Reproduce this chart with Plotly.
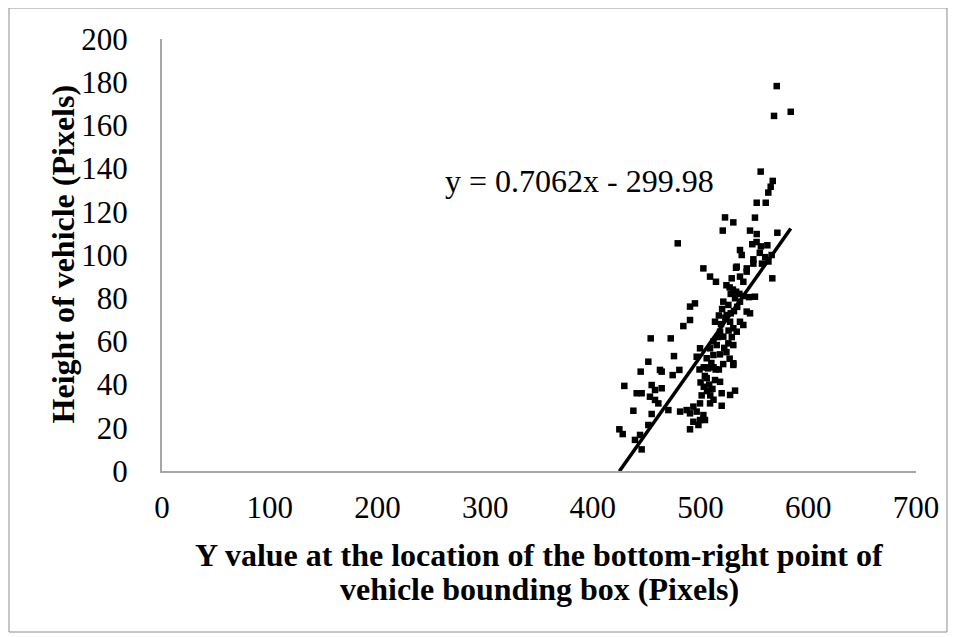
import plotly.graph_objects as go

# Data
x_vals = [570.7, 568.2, 583.7, 555.8, 567.0, 565.1, 562.9, 552.1, 560.5,
          522.7, 530.4, 550.5, 520.6, 545.9, 552.1, 571.3, 478.8,
          536.6, 538.2, 548.0, 552.0, 556.0, 562.0, 549.0, 555.0, 560.0, 557.0, 563.0, 566.0,
          533.6, 542.9, 502.6, 549.0, 508.8, 514.3, 532.9, 542.8, 566.6, 528.9, 536.6, 539.7,
          524.0, 527.0, 530.0, 533.0, 536.0, 540.0, 545.0, 528.0, 532.0, 550.5,
          490.2, 494.8, 521.1, 525.8, 536.6, 542.8, 545.9, 490.2, 484.0, 513.4,
          524.3, 527.4, 530.4, 533.6, 536.6, 539.7, 518.1, 521.1, 515.0, 508.8,
          525.8, 530.4, 453.7, 472.3, 475.3, 451.5, 499.5, 496.4, 530.4, 505.7, 511.9, 521.0, 527.0,
          520.0, 523.0, 519.0, 526.0, 516.0, 512.0, 522.0, 518.0, 510.0, 514.0, 506.0, 531.0, 534.0, 528.0, 517.0, 529.0, 524.0,
          444.4, 462.3, 463.9, 474.1, 480.3, 429.2, 440.7, 445.3, 454.6, 457.7, 463.9, 453.0, 460.8, 457.7,
          437.6, 454.6, 470.1, 451.5, 424.6, 427.7, 439.1, 443.8, 445.3,
          499.0, 503.0, 507.0, 512.0, 517.0, 505.7, 513.4, 518.1, 530.4, 519.6, 527.4, 532.0,
          500.0, 503.0, 506.0, 509.0, 512.0, 501.0, 504.0, 508.0, 511.0,
          481.0, 487.1, 493.3, 499.5, 508.8, 519.6, 490.2, 496.4, 502.6, 493.3, 499.5, 504.1, 490.2, 498.0]
y_vals = [178.2, 164.4, 166.3, 138.6, 134.3, 131.6, 128.9, 124.2, 124.2,
          117.4, 115.1, 117.3, 111.3, 111.3, 109.7, 110.3, 105.4,
          102.3, 100.0, 105.0, 106.0, 104.0, 104.5, 98.0, 101.0, 99.0, 96.0, 97.0, 100.0,
          94.6, 93.8, 93.8, 96.0, 90.0, 87.6, 94.1, 92.3, 89.2, 89.2, 90.0, 87.6,
          86.0, 85.0, 84.0, 83.0, 82.0, 81.0, 80.5, 82.0, 80.0, 80.7,
          76.1, 77.6, 78.4, 76.9, 78.4, 73.8, 73.0, 69.9, 67.1, 69.1,
          72.2, 69.1, 66.1, 64.5, 69.1, 67.6, 64.5, 62.2, 58.3, 56.8,
          59.1, 58.3, 61.4, 61.4, 53.2, 50.6, 56.8, 52.9, 49.9, 52.2, 53.7, 49.5, 52.0,
          75.0, 71.0, 68.0, 65.0, 62.0, 60.0, 57.0, 54.0, 50.0, 47.0, 48.0, 74.0, 76.0, 73.0, 72.0, 62.0, 55.0,
          46.0, 46.8, 46.0, 44.4, 46.8, 39.4, 36.0, 36.0, 39.8, 37.5, 38.3, 34.4, 31.3, 32.9,
          27.9, 26.4, 28.2, 21.3, 19.3, 17.1, 14.4, 16.7, 10.0,
          47.0, 48.0, 47.5, 48.0, 47.0, 43.0, 42.1, 41.3, 49.1, 36.0, 35.2, 37.2,
          41.0, 39.0, 37.0, 35.0, 33.0, 35.0, 44.0, 40.0, 38.0,
          27.5, 28.2, 29.8, 31.3, 31.3, 30.2, 26.7, 27.5, 25.9, 22.8, 23.6, 23.6, 19.3, 21.3]

slope = 0.7062
intercept = -299.98
equation_text = "y = 0.7062x - 299.98"

x_ticks = [0, 100, 200, 300, 400, 500, 600, 700]
y_ticks = [0, 20, 40, 60, 80, 100, 120, 140, 160, 180, 200]

x_title_lines = ["Y value at the location of the bottom-right point of",
                 "vehicle bounding box (Pixels)"]
y_title = "Height of vehicle (Pixels)"

serif = "Liberation Serif, Times New Roman, serif"

fig = go.Figure()
fig.add_trace(go.Scatter(
    x=x_vals, y=y_vals, mode="markers",
    marker=dict(symbol="square", size=6.5, color="black"),
    showlegend=False, hoverinfo="x+y"))

x0 = min(x_vals)
x1 = max(x_vals)
fig.add_trace(go.Scatter(
    x=[x0, x1], y=[slope * x0 + intercept, slope * x1 + intercept],
    mode="lines", line=dict(color="black", width=3.5), showlegend=False))

fig.add_annotation(x=261, y=134.3, xref="x", yref="y", text=equation_text,
                   showarrow=False, xanchor="left", yanchor="middle",
                   font=dict(family=serif, size=32, color="black"))

for txt, yp in zip(x_title_lines, [-0.1933, -0.2731]):
    fig.add_annotation(x=0.5, y=yp, xref="paper", yref="paper", text="<b>" + txt + "</b>",
                       showarrow=False, xanchor="center", yanchor="middle",
                       font=dict(family=serif, size=32, color="black"))

fig.add_annotation(x=-0.13, y=0.5035, xref="paper", yref="paper", text="<b>" + y_title + "</b>",
                   showarrow=False, xanchor="center", yanchor="middle", textangle=-90,
                   font=dict(family=serif, size=32, color="black"))

fig.add_shape(type="rect", xref="paper", yref="paper",
              x0=-0.2029, x1=1.0411, y0=-0.3727, y1=1.0718,
              line=dict(color="#8c8c8c", width=1), fillcolor="rgba(0,0,0,0)")

fig.update_xaxes(range=[0, 700], tickvals=x_ticks, showgrid=False, zeroline=False,
                 showline=True, linecolor="#a6a6a6", linewidth=2,
                 ticks="outside", ticklen=8, tickcolor="rgba(0,0,0,0)",
                 tickfont=dict(family=serif, size=31, color="black"))
fig.update_yaxes(range=[0, 200], tickvals=y_ticks, showgrid=False, zeroline=False,
                 showline=True, linecolor="#a6a6a6", linewidth=2,
                 ticks="outside", ticklen=26, tickcolor="rgba(0,0,0,0)",
                 tickfont=dict(family=serif, size=31, color="black"))

fig.update_layout(width=948, height=629, plot_bgcolor="white", paper_bgcolor="white",
                  margin=dict(l=154, r=40, t=31, b=166), showlegend=False)

fig.write_html("out.html")
